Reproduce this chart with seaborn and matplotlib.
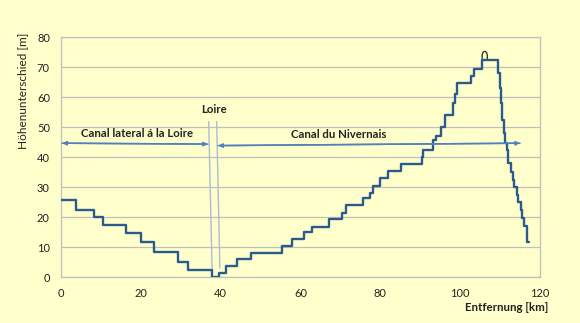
import matplotlib
matplotlib.use("Agg")
import matplotlib.pyplot as plt
import seaborn as sns
import pandas as pd

# Step profile: distance (km) where each level starts, and level height (m)
step_km = [0, 3.8, 8.3, 10.6, 16.2, 20.0, 23.4, 29.4, 31.9, 37.8, 39.6, 41.3,
           44.2, 47.5, 55.3, 57.8, 61.0, 63.0, 67.2, 70.3, 71.3, 75.7, 77.4,
           78.1, 80.0, 82.0, 85.2, 90.4, 90.8, 93.2, 94.0, 95.2, 96.2, 98.2,
           98.7, 99.1, 102.8, 103.4, 105.4, 109.6, 109.9, 110.2,
           110.5, 110.9, 111.3, 111.7, 112.1, 112.7, 113.2, 113.6, 114.2,
           114.6, 115.2, 115.6, 116.0, 116.7, 117.3]
step_m = [25.8, 22.4, 20.0, 17.5, 14.9, 11.7, 8.4, 5.1, 2.3, 0.0, 1.4, 3.8,
          6.2, 8.2, 10.5, 12.7, 15.0, 16.9, 19.3, 21.4, 24.2, 26.3, 28.1,
          30.6, 33.0, 35.4, 37.9, 40.2, 42.4, 45.8, 47.2, 50.0, 54.1, 58.0,
          61.0, 64.9, 67.1, 69.3, 72.4, 68.0, 63.0, 58.0,
          52.4, 48.0, 44.7, 42.4, 38.0, 35.2, 32.4, 30.2, 27.4,
          25.2, 22.4, 19.7, 17.2, 11.9, 11.9]

# Small summit arch (tunnel marker)
arch_km = [105.5, 105.5, 105.65, 105.9, 106.15, 106.4, 106.65, 106.8, 106.8]
arch_m = [72.4, 74.0, 74.8, 75.2, 75.3, 75.2, 74.8, 74.0, 72.4]

# Loire crossing lines (km start, m start, km end, m end)
loire_left = [37.0, 51.9, 37.9, 0.0]
loire_right = [39.0, 51.9, 39.8, 3.1]

x_ticks = [0, 20, 40, 60, 80, 100, 120]
y_ticks = [0, 10, 20, 30, 40, 50, 60, 70, 80]

bg = "#FFFFCC"
sns.set_theme(style="white")
plt.rcParams["font.family"] = ["Lato", "DejaVu Sans"]

fig = plt.figure(figsize=(5.8, 3.23), dpi=100, facecolor=bg)
ax = fig.add_axes([61/580, 1-277.3/323, (540-61)/580, (277.3-37.3)/323])
ax.set_facecolor(bg)

df = pd.DataFrame({"km": step_km, "m": step_m})
sns.lineplot(data=df, x="km", y="m", ax=ax, sort=False, estimator=None,
             drawstyle="steps-post", color="#2B5B8C", lw=1.7, zorder=3)
arch = pd.DataFrame({"km": arch_km, "m": arch_m})
sns.lineplot(data=arch, x="km", y="m", ax=ax, sort=False, estimator=None,
             color="#3A3A2A", lw=1.0, zorder=2)

ax.plot([loire_left[0], loire_left[2]], [loire_left[1], loire_left[3]],
        color="#A9BED6", lw=1.0, zorder=2)
ax.plot([loire_right[0], loire_right[2]], [loire_right[1], loire_right[3]],
        color="#A9BED6", lw=1.0, zorder=2)

arrow_c = "#4F81BD"
def dbl_arrow(x0, y0, x1, y1):
    for a, b in (((x0, y0), (x1, y1)), ((x1, y1), (x0, y0))):
        ax.annotate("", xy=a, xytext=b,
                    arrowprops=dict(arrowstyle="-|>", color=arrow_c, lw=1.1,
                                    mutation_scale=6, shrinkA=0, shrinkB=0))

dbl_arrow(0.3, 44.7, 36.8, 44.4)
dbl_arrow(39.4, 43.9, 115.0, 44.7)

ax.text(19.0, 48.0, "Canal lateral á la Loire", ha="center", va="center",
        fontsize=8.2, fontweight="bold", color="#222222")
ax.text(38.2, 56.0, "Loire", ha="center", va="center",
        fontsize=8.2, fontweight="bold", color="#222222")
ax.text(69.5, 47.7, "Canal du Nivernais", ha="center", va="center",
        fontsize=8.2, fontweight="bold", color="#222222")

ax.set_xlim(0, 120)
ax.set_ylim(0, 80)
ax.set_xticks(x_ticks)
ax.set_yticks(y_ticks)
ax.tick_params(axis="both", length=0, labelsize=8, colors="#222222", pad=8)
ax.grid(axis="y", color="#BFBFBF", lw=0.9)
ax.grid(axis="x", visible=False)
for s in ax.spines.values():
    s.set_color("#BFBFBF")
    s.set_linewidth(0.9)
ax.set_xlabel("")
ax.set_ylabel("")

fig.text(22.7/580, 1-91/323, "Höhenunterschied [m]", rotation=90,
         ha="center", va="center", fontsize=8.5, color="#222222")
fig.text(548/580, 1-307.7/323, "Entfernung [km]", ha="right", va="center",
         fontsize=8.3, fontweight="bold", color="#222222")

fig.savefig("out.png", dpi=100, facecolor=bg)
